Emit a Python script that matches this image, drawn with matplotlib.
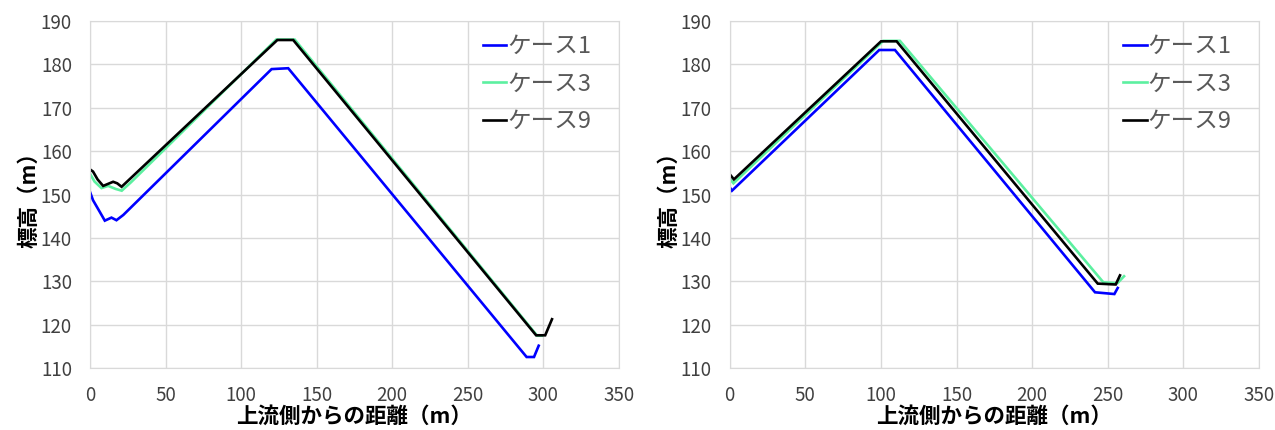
import matplotlib
matplotlib.use("Agg")
import matplotlib.pyplot as plt

plt.rcParams['font.family'] = ['Noto Sans CJK JP', 'DejaVu Sans']

# left chart
left_x1 = [0, 2, 6.5, 9.8, 14.2, 17.5, 22, 120.2, 131.2, 289, 293.9, 297]
left_y1 = [150.6, 148.7, 146.0, 144.0, 144.7, 144.1, 145.3, 178.9, 179.1, 112.6, 112.6, 115.2]
left_x3 = [0, 3, 7.6, 12, 17, 21, 27, 123.3, 135.5, 296, 299]
left_y3 = [154.8, 153.0, 151.5, 152.0, 151.3, 150.9, 152.8, 185.7, 185.7, 117.5, 117.5]
left_x9 = [0, 2, 5, 8.7, 15.3, 18, 20.9, 124, 134.5, 295.3, 301.3, 305.8]
left_y9 = [155.8, 155.3, 153.5, 152.0, 152.95, 152.6, 151.8, 185.6, 185.6, 117.6, 117.6, 121.3]

# right chart
right_x1 = [0, 1.5, 98.9, 109.3, 241.6, 254.4, 256.6]
right_y1 = [151.7, 150.9, 183.3, 183.3, 127.5, 127.1, 128.5]
right_x3 = [0, 2.5, 101.5, 112.6, 247.1, 256.4, 260.8]
right_y3 = [153.7, 152.6, 185.4, 185.4, 129.8, 129.6, 131.2]
right_x9 = [0, 2.8, 100.1, 110.4, 243.4, 255.3, 258.1]
right_y9 = [154.7, 153.5, 185.3, 185.3, 129.5, 129.3, 131.4]

labels = ['ケース1', 'ケース3', 'ケース9']
colors = ['#0000ff', '#5cf0a0', '#000000']
xlabel = '上流側からの距離（m）'
ylabel = '標高（m）'

fig = plt.figure(figsize=(12.75, 4.3), dpi=100)
ax1 = fig.add_axes([0.0706, 0.1435, 0.4147, 0.8079])
ax2 = fig.add_axes([0.5723, 0.1435, 0.4151, 0.8079])

data = [
    (ax1, [(left_x1, left_y1), (left_x3, left_y3), (left_x9, left_y9)]),
    (ax2, [(right_x1, right_y1), (right_x3, right_y3), (right_x9, right_y9)]),
]

for ax, series in data:
    for (xs, ys), lab, c in zip(series, labels, colors):
        ax.plot(xs, ys, color=c, lw=1.9, label=lab, solid_joinstyle='miter')
    ax.set_xlim(0, 350)
    ax.set_ylim(110, 190)
    ax.set_xticks(range(0, 351, 50))
    ax.set_yticks(range(110, 191, 10))
    ax.grid(True, color='#d9d9d9', lw=1)
    ax.set_axisbelow(True)
    for s in ax.spines.values():
        s.set_color('#d9d9d9')
    ax.tick_params(length=0, pad=13, labelsize=13.5, labelcolor='#404040')
    ax.tick_params(axis='x', pad=12)
    ax.set_xlabel(xlabel, fontsize=15.5, fontweight='bold', labelpad=0)
    ax.set_ylabel(ylabel, fontsize=15.5, fontweight='bold', labelpad=1)
    leg = ax.legend(loc='upper left', bbox_to_anchor=(0.743, 0.96), frameon=False,
                    fontsize=17, handlelength=1.0, handletextpad=0.05,
                    labelspacing=0.62, borderpad=0, borderaxespad=0)
    for t in leg.get_texts():
        t.set_color('#595959')

fig.savefig('out.png', dpi=100)
